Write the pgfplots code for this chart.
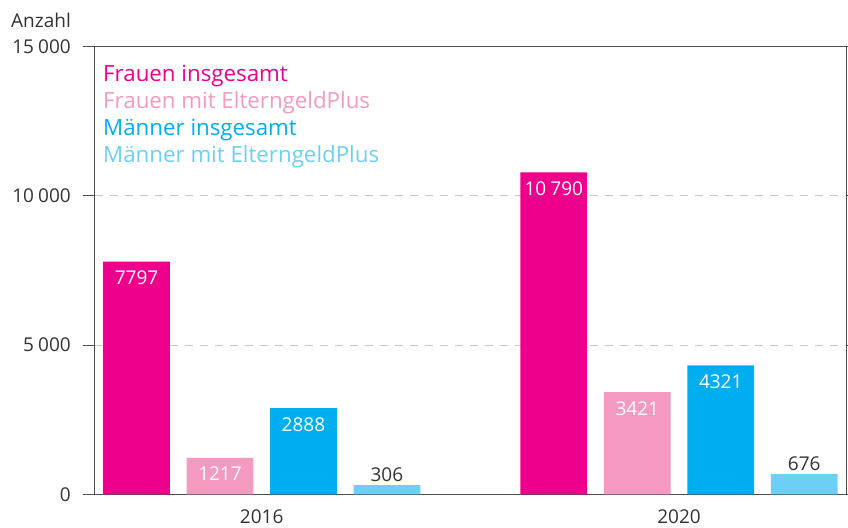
\documentclass[border=0pt]{standalone}
\usepackage{fontspec}
\setmainfont{Open Sans}
\usepackage{pgfplots}
\pgfplotsset{compat=1.18}
\definecolor{mag}{HTML}{EC008C}
\definecolor{pinkc}{HTML}{F49AC1}
\definecolor{cyanc}{HTML}{00AEEF}
\definecolor{lcyan}{HTML}{6DCFF6}
\definecolor{txt}{HTML}{333333}
\definecolor{axc}{HTML}{4D4D4D}
\newcommand{\lblfont}{\fontsize{19bp}{23bp}\selectfont}
\newcommand{\legfont}{\fontsize{22.3bp}{26bp}\selectfont}
\newcommand{\ts}{\hspace{0.22em}}
\begin{document}
\begin{tikzpicture}[x=1bp,y=1bp]
\path[use as bounding box] (0,0) rectangle (848,528);
\begin{axis}[
  at={(94.5bp,33.7bp)}, anchor=south west,
  scale only axis, width=752.2bp, height=447.6bp,
  xmin=-0.4007, xmax=1.4019, ymin=0, ymax=15000,
  ybar, bar width=0.16,
  scaled y ticks=false,
  axis line style={draw=axc, line width=1bp},
  xtick={0,1}, xticklabels={2016,2020},
  x tick style={draw=none},
  ytick={0,5000,10000,15000},
  yticklabels={0,5\ts000,10\ts000,15\ts000},
  y tick style={draw=axc, line width=1bp},
  tick align=outside, major tick length=12bp,
  ymajorgrids=true,
  major grid style={draw=black!22, line width=1bp, dash pattern=on 8bp off 7bp},
  ticklabel style={font=\lblfont, text=txt, inner sep=0pt},
  yticklabel style={anchor=east, xshift=-11.5bp},
  xticklabel style={anchor=north, yshift=-3bp},
  point meta=explicit symbolic,
  nodes near coords,
  nodes near coords style={font=\lblfont, inner sep=0pt},
]
\addplot[fill=mag, draw=none, bar shift=-0.3,
  nodes near coords align={below}, every node near coord/.append style={text=white, yshift=-9bp}]
  coordinates {(0,7797) [7797] (1,10790) [10\ts790]};
\addplot[fill=pinkc, draw=none, bar shift=-0.1,
  nodes near coords align={below}, every node near coord/.append style={text=white, yshift=-9bp}]
  coordinates {(0,1217) [1217] (1,3421) [3421]};
\addplot[fill=cyanc, draw=none, bar shift=0.1,
  nodes near coords align={below}, every node near coord/.append style={text=white, yshift=-9bp}]
  coordinates {(0,2888) [2888] (1,4321) [4321]};
\addplot[fill=lcyan, draw=none, bar shift=0.3,
  nodes near coords align={above}, every node near coord/.append style={text=txt, yshift=3bp}]
  coordinates {(0,306) [306] (1,676) [676]};
\end{axis}
\node[anchor=base east, inner sep=0pt, font=\lblfont, text=txt] at (71,500.7) {Anzahl};
\node[anchor=base west, inner sep=0pt, font=\legfont, text=mag] at (103,446.3) {Frauen insgesamt};
\node[anchor=base west, inner sep=0pt, font=\legfont, text=pinkc] at (103,419) {Frauen mit ElterngeldPlus};
\node[anchor=base west, inner sep=0pt, font=\legfont, text=cyanc] at (103,392) {Männer insgesamt};
\node[anchor=base west, inner sep=0pt, font=\legfont, text=lcyan] at (103,365) {Männer mit ElterngeldPlus};
\end{tikzpicture}
\end{document}
